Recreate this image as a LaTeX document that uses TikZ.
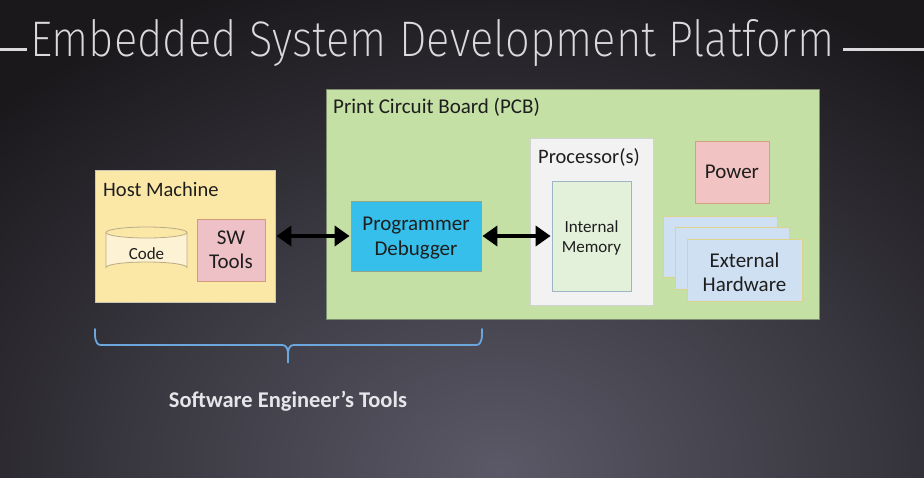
\documentclass[tikz,border=0pt]{standalone}
\usepackage{graphicx}
\usepackage{fontspec}
\setmainfont{Carlito}
\newfontfamily\titlefont{Fira Sans ExtraLight}
\usetikzlibrary{arrows.meta}

\definecolor{bgdark}{HTML}{1A181B}
\definecolor{bgglow}{HTML}{5B5967}
\definecolor{titlegrey}{HTML}{DADADC}
\definecolor{inktext}{HTML}{1E1E1E}
\definecolor{hostfill}{HTML}{FBE8A7}
\definecolor{hostdraw}{HTML}{C9C6B6}
\definecolor{codefill}{HTML}{FDF3D4}
\definecolor{codedraw}{HTML}{B9AB86}
\definecolor{swfill}{HTML}{EEC1C6}
\definecolor{swdraw}{HTML}{D39B79}
\definecolor{pcbfill}{HTML}{C5E0A5}
\definecolor{pcbdraw}{HTML}{7E8C70}
\definecolor{progfill}{HTML}{35BFEA}
\definecolor{progdraw}{HTML}{93A68A}
\definecolor{procfill}{HTML}{F2F2F2}
\definecolor{procdraw}{HTML}{D2D2D2}
\definecolor{memfill}{HTML}{E3F0DA}
\definecolor{memdraw}{HTML}{9DB3C6}
\definecolor{powfill}{HTML}{F2C3C3}
\definecolor{powdraw}{HTML}{D6A07E}
\definecolor{extfill}{HTML}{CFE0F2}
\definecolor{extdraw}{HTML}{DCD48A}
\definecolor{bracecol}{HTML}{6BA6DC}
\definecolor{notecol}{HTML}{E6E6EA}

\tikzset{
  blockbox/.style={draw, line width=0.8pt, inner sep=0pt},
  boxlabel/.style={anchor=base west, inner sep=0pt, text=inktext, font=\fontsize{20.5}{23}\selectfont},
  boxtext/.style={align=center, inner sep=0pt, text=inktext},
  link/.style={{Triangle[length=15pt,width=20pt]}-{Triangle[length=15pt,width=20pt]}, line width=4.5pt, black, shorten <=1pt, shorten >=1pt},
  titlebar/.style={line width=3pt, titlegrey}
}

\begin{document}
\begin{tikzpicture}[x=1pt, y=-1pt]
\useasboundingbox (0,0) rectangle (924,477);

% backdrop: dark slide with a soft glow towards the bottom
\fill[bgdark] (0,0) rectangle (924,477);
\begin{scope}
  \clip (0,0) rectangle (924,477);
  \shade[inner color=bgglow, outer color=bgdark] (500,470) ellipse (700 and 520);
\end{scope}

% title with its two rules
\node[anchor=base west, inner sep=0pt, text=titlegrey] (title) at (30,56)
  {\resizebox{804pt}{\height}{\titlefont\fontsize{50}{50}\selectfont Embedded System Development Platform}};
\coordinate (ruleL0) at (0,49);
\coordinate (ruleL1) at (27,49);
\coordinate (ruleR0) at (843,49);
\coordinate (ruleR1) at (924,49);
\draw[titlebar] (ruleL0) -- (ruleL1);
\draw[titlebar] (ruleR0) -- (ruleR1);

% host machine
\node[blockbox, fill=hostfill, draw=hostdraw, minimum width=180, minimum height=132] (host) at (185,236) {};
\node[boxlabel] (hostlbl) at (103,196) {Host Machine};

% code store drawn as a cylinder
\fill[codefill] (106,232.5) -- (106,267.5) arc[start angle=180, end angle=360, x radius=40.5, y radius=5.5]
  -- (187,232.5) arc[start angle=0, end angle=180, x radius=40.5, y radius=5.5] -- cycle;
\draw[codedraw, line width=0.8pt] (106,232.5) -- (106,267.5) arc[start angle=180, end angle=360, x radius=40.5, y radius=5.5]
  -- (187,232.5);
\draw[codedraw, line width=0.8pt] (146.5,232.5) ellipse (40.5 and 5.5);
\node[boxtext, font=\fontsize{17}{19}\selectfont] (code) at (146.5,254) {Code};

% software tools
\node[blockbox, fill=swfill, draw=swdraw, minimum width=68, minimum height=62] (sw) at (231,250) {};
\node[boxtext, font=\fontsize{21}{23.5}\selectfont] (swtxt) at (sw.center) {SW\\Tools};

% printed circuit board
\node[blockbox, fill=pcbfill, draw=pcbdraw, line width=0.6pt, minimum width=493, minimum height=230] (pcb) at (572.5,204) {};
\node[boxlabel, font=\fontsize{21}{23}\selectfont] (pcblbl) at (333,113) {Print Circuit Board (PCB)};

% programmer / debugger
\node[blockbox, fill=progfill, draw=progdraw, minimum width=130, minimum height=70] (prog) at (416,236) {};
\node[boxtext, font=\fontsize{21}{25}\selectfont] (progtxt) at (416,238) {Programmer\\Debugger};

% processor with its internal memory
\node[blockbox, fill=procfill, draw=procdraw, minimum width=123, minimum height=167] (proc) at (591.5,221.5) {};
\node[boxlabel] (proclbl) at (538,163) {Processor(s)};
\node[blockbox, fill=memfill, draw=memdraw, minimum width=79, minimum height=110] (mem) at (591.5,236) {};
\node[boxtext, font=\fontsize{17}{20}\selectfont] (memtxt) at (591.5,238) {Internal\\Memory};

% power supply
\node[blockbox, fill=powfill, draw=powdraw, minimum width=74, minimum height=62] (power) at (732,172) {};
\node[boxtext, font=\fontsize{21}{23}\selectfont] (powtxt) at (power.center) {Power};

% external hardware, stacked
\node[blockbox, fill=extfill, draw=extdraw, minimum width=114, minimum height=61] (ext1) at (720,246.5) {};
\node[blockbox, fill=extfill, draw=extdraw, minimum width=114, minimum height=62] (ext2) at (732,258) {};
\node[blockbox, fill=extfill, draw=extdraw, minimum width=115, minimum height=62] (ext3) at (744.5,270) {};
\node[boxtext, font=\fontsize{21}{24}\selectfont] (exttxt) at (744.5,272) {External\\Hardware};

% links
\draw[link] (host.east) -- (prog.west);
\draw[link] (prog.east) -- (mem.west);

% brace under the engineer's tool chain
\coordinate (braceL) at (95,329);
\coordinate (braceR) at (482,329);
\coordinate (braceTip) at (288,363);
\draw[bracecol, line width=1.8pt, line cap=round]
  (braceL) to[out=-90, in=180] (101,345) -- (282,345) to[out=0, in=90] (braceTip)
  to[out=90, in=180] (294,345) -- (476,345) to[out=0, in=-90] (braceR);
\node[anchor=base, inner sep=0pt, text=notecol, font=\bfseries\fontsize{22.5}{25}\selectfont] (tools) at (288,407) {Software Engineer’s Tools};
\end{tikzpicture}
\end{document}
